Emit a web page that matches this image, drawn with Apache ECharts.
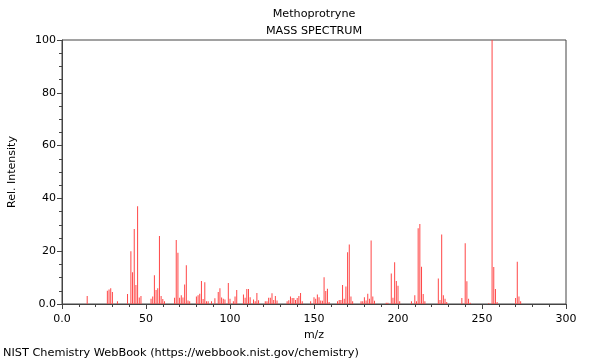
<!DOCTYPE html>
<html><head><meta charset="utf-8">
<script src="https://cdn.jsdelivr.net/npm/echarts@6/dist/echarts.min.js"></script>
<style>html,body{margin:0;padding:0;background:#fff}#c{width:600px;height:360px}</style>
</head><body><div id="c"></div>
<script>
const mz = [15,27,28,29,30,33,39,41,42,43,44,45,46,47,53,54,55,56,57,58,59,60,61,
67,68,69,70,71,72,73,74,75,76,80,81,82,83,84,85,86,87,89,91,93,94,95,96,97,99,100,102,103,104,
108,109,110,111,112,114,115,116,117,121,122,123,124,125,126,127,128,134,135,136,137,138,139,140,141,142,143,
148,150,151,152,153,154,155,156,157,158,159,164,165,166,167,168,169,170,171,172,173,178,179,180,181,182,183,184,185,186,
193,194,196,197,198,199,200,201,208,210,211,212,213,214,215,216,224,225,226,227,228,229,238,240,241,242,243,
254,256,257,258,259,270,271,272,273];
const intensity = [3,5,5.5,6,4.5,1,3.8,20,12,28.4,7.2,37,2.5,3,2,2.8,10.9,5.3,6,25.8,3,1.9,1,
2.4,24.2,19.4,2.4,3.3,2.5,7.4,14.7,1.3,1,2.8,3.3,3.9,8.7,1.9,8.2,1,1,1,2.2,4.5,6,2.5,2,1.7,8,2,1,2.8,5.3,
3.6,2.4,5.7,5.7,2.6,1.7,1,4.2,1.4,1,1,2.4,2.4,4.1,1.5,3,1.3,1,1.4,2.8,2.3,2.3,1.5,2.3,3,4.2,1,
1,2.6,2,3.6,2.6,1.3,1.2,10.1,4.9,5.8,0.8,1,1.5,1.5,7.2,2,6.6,19.6,22.5,2.8,1,1,1,2.6,1.3,3.9,2,24.1,2.8,1.2,
0.5,0.5,11.6,2.4,15.8,8.7,6.9,1,1,3.3,1,28.7,30.3,14.1,3.8,1,9.7,1.5,26.3,3.3,2,0.8,2.3,23,8.6,2,0.5,
0.3,100,14,5.7,0.8,2.3,16,2.8,1];
const title1 = 'Methoprotryne';
const title2 = 'MASS SPECTRUM';
const xName = 'm/z';
const yName = 'Rel. Intensity';
const footer = 'NIST Chemistry WebBook (https://webbook.nist.gov/chemistry)';

const data = mz.map((m,i)=>[m,intensity[i]]);
const font = 'DejaVu Sans';
const axisCol = '#444';
const chart = echarts.init(document.getElementById('c'));
chart.setOption({
  animation:false,
  textStyle:{fontFamily:font},
  title:[
    {text:title1,left:309,top:4,textAlign:'center',textStyle:{fontSize:11.2,fontWeight:'normal',color:'#000',fontFamily:font}},
    {text:title2,left:309,top:21,textAlign:'center',textStyle:{fontSize:11.2,fontWeight:'normal',color:'#000',fontFamily:font}},
    {text:footer,left:-2,top:343,textStyle:{fontSize:11.3,fontWeight:'normal',color:'#000',fontFamily:font}}
  ],
  grid:{left:62,right:34,top:40,bottom:56,show:true,borderColor:axisCol,borderWidth:1,containLabel:false,outerBoundsMode:'none'},
  xAxis:{type:'value',min:0,max:300,interval:50,
    name:xName,nameLocation:'middle',nameGap:25,nameTextStyle:{fontSize:11,color:'#000'},
    axisLine:{lineStyle:{color:axisCol}},
    axisTick:{show:true,length:5,lineStyle:{color:axisCol}},
    minorTick:{show:true,splitNumber:5,length:3,lineStyle:{color:axisCol}},
    splitLine:{show:false},
    axisLabel:{fontSize:11,color:'#000',margin:10,formatter:v=>v===0?'0.0':String(v)}},
  yAxis:{type:'value',min:0,max:100,interval:20,
    name:yName,nameLocation:'middle',nameGap:44,nameTextStyle:{fontSize:11,color:'#000'},
    axisLine:{show:true,lineStyle:{color:axisCol}},
    axisTick:{show:true,length:5,lineStyle:{color:axisCol}},
    minorTick:{show:true,splitNumber:4,length:3,lineStyle:{color:axisCol}},
    splitLine:{show:false},
    axisLabel:{fontSize:11,color:'#000',margin:6,formatter:v=>v===0?'0.0':String(v)}},
  series:[{type:'bar',data:data,barWidth:1,itemStyle:{color:'rgb(255,70,70)'},silent:true}]
});
</script></body></html>
